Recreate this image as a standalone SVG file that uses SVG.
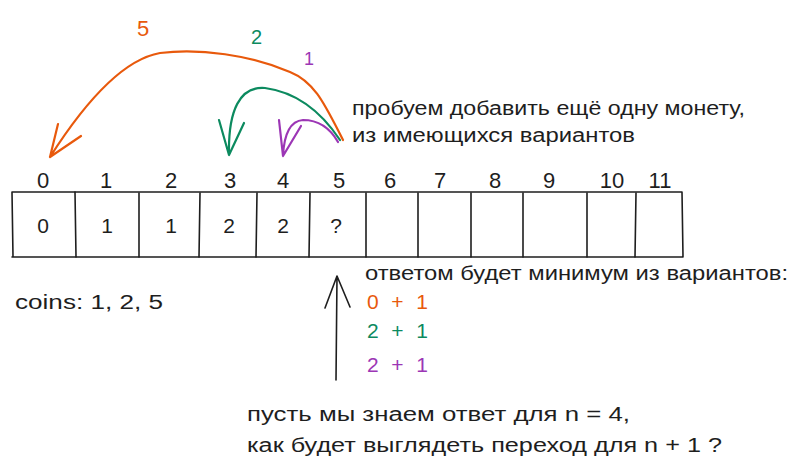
<svg xmlns="http://www.w3.org/2000/svg" width="800" height="472" viewBox="0 0 800 472">
<style>
text{font-family:"Liberation Sans","DejaVu Sans",sans-serif;fill:#1e1e1e}
.idx{font-size:22px;text-anchor:middle}
.val{font-size:21px;text-anchor:middle}
.t{font-size:20px}
.ln{stroke:#1e1e1e;stroke-width:1.6;fill:none;stroke-linecap:round}
.arc{fill:none;stroke-width:2.2;stroke-linecap:round;stroke-linejoin:round}
.o{stroke:#e8590c}.g{stroke:#0c8a5f}.p{stroke:#9c36b5}
.fo{fill:#e8590c}.fg{fill:#0c8a5f}.fp{fill:#9c36b5}
</style>
<rect width="800" height="472" fill="#ffffff"/>
<g id="array">
  <path class="ln" d="M12 192 L682 192 M12 257 L682 257 M12 192 L13 257 M682 192 L683 257"/>
  <path class="ln" d="M75 192 L76 257 M139 193 L139 257 M200 193 L199 257 M257 193 L256 257 M310 193 L309 257 M366 193 L366 257 M418 193 L418 257 M471 193 L471 257 M523 193 L523 257 M587 193 L587 257 M636 193 L635 257"/>
</g>
<g id="indices">
  <text class="idx" x="43" y="188">0</text>
  <text class="idx" x="106" y="188">1</text>
  <text class="idx" x="171" y="188">2</text>
  <text class="idx" x="230" y="188">3</text>
  <text class="idx" x="283" y="188">4</text>
  <text class="idx" x="339" y="188">5</text>
  <text class="idx" x="390" y="188">6</text>
  <text class="idx" x="440" y="188">7</text>
  <text class="idx" x="495" y="188">8</text>
  <text class="idx" x="549" y="188">9</text>
  <text class="idx" x="612" y="188">10</text>
  <text class="idx" x="660" y="188">11</text>
</g>
<g id="values">
  <text class="val" x="43" y="233">0</text>
  <text class="val" x="107" y="233">1</text>
  <text class="val" x="171" y="233">1</text>
  <text class="val" x="229" y="233">2</text>
  <text class="val" x="283" y="233">2</text>
  <text class="val" x="336" y="233">?</text>
</g>
<g id="connectors">
  <path class="arc o" d="M343 140 C325 105 315 82 290 72 C250 55 200 48 160 53 C120 60 80 110 50 157 M50 157 L58 124 M50 157 L81 136"/>
  <path class="arc g" d="M340 140 C320 110 295 92 265 88 C240 86 228 110 229 155 M229 155 L219 120 M229 155 L244 123"/>
  <path class="arc p" d="M338 142 C330 128 318 120 303 120 C290 121 284 135 283 156 M283 156 L279 120 M283 156 L301 126"/>
  <path class="ln" d="M336 380 L337 276 M337 276 L325 308 M337 276 L350 307"/>
</g>
<g id="labels">
  <text class="t fo" x="137" y="36" style="font-size:22px">5</text>
  <text class="t fg" x="251" y="44" style="font-size:20px">2</text>
  <text class="t fp" x="304" y="65" style="font-size:18px">1</text>
</g>
<g id="note-top">
  <text class="t" x="352" y="115" textLength="393" lengthAdjust="spacingAndGlyphs">пробуем добавить ещё одну монету,</text>
  <text class="t" x="352" y="142" textLength="283" lengthAdjust="spacingAndGlyphs">из имеющихся вариантов</text>
</g>
<g id="note-answer">
  <text class="t" x="365" y="280" textLength="423" lengthAdjust="spacingAndGlyphs">ответом будет минимум из вариантов:</text>
  <text class="t fo" x="367" y="309" style="font-size:21px" textLength="61">0 + 1</text>
  <text class="t fg" x="367" y="338" style="font-size:21px" textLength="61">2 + 1</text>
  <text class="t fp" x="367" y="372" style="font-size:21px" textLength="61">2 + 1</text>
</g>
<g id="coins">
  <text class="t" x="15" y="309" textLength="148" lengthAdjust="spacingAndGlyphs">coins: 1, 2, 5</text>
</g>
<g id="note-bottom">
  <text class="t" x="247" y="421" textLength="383" lengthAdjust="spacingAndGlyphs">пусть мы знаем ответ для n = 4,</text>
  <text class="t" x="247" y="452" textLength="475" lengthAdjust="spacingAndGlyphs">как будет выглядеть переход для n + 1 ?</text>
</g>
</svg>
